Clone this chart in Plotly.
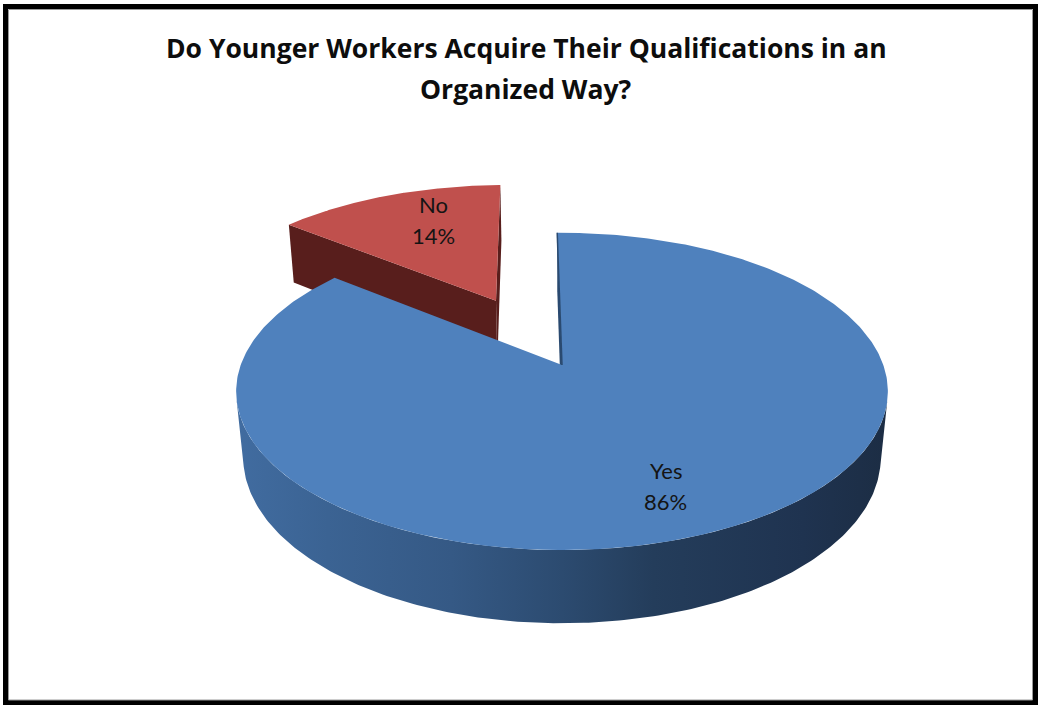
import numpy as np
import plotly.graph_objects as go

# Survey answers
categories = ["Yes", "No"]
values = [86, 14]
explode = [0.0, 0.5]          # radial offset of each slice, in pie radii

title_lines = ["Do Younger Workers Acquire Their Qualifications in an",
               "Organized Way?"]

# Slice styling
top_colors = ["#4f81bd", "#c0504d"]
side_scales = [
    [[0.0, "#416ca0"], [0.14, "#3b6393"], [0.33, "#355985"], [0.5, "#2c4b70"],
     [0.64, "#243d5b"], [0.87, "#1f3350"], [1.0, "#1c2d44"]],
    [[0.0, "#5c201e"], [1.0, "#4a1715"]],
]
cut_colors = ["#2a4a70", "#581e1c"]

# Perspective camera for the 3-D pie
W, H_PX = 1039, 705
CX, CY = 562.0, 365.0          # screen position of the pie centre
F = 1690.0                     # focal length (px)
DIST = 5.26                    # camera distance, in pie radii
PHI = np.arcsin(0.48)          # elevation of the camera
SPHI, CPHI = np.sin(PHI), np.cos(PHI)
DEPTH = 0.236                  # pie thickness, in pie radii
FIRST_ANGLE = 91.0             # where the first slice starts (deg, ccw from 3 o'clock)
CAM = np.array([0.0, -DIST * CPHI, DIST * SPHI])


def proj(X, Y, Z):
    X, Y, Z = np.asarray(X, float), np.asarray(Y, float), np.asarray(Z, float)
    d = DIST + Y * CPHI - Z * SPHI
    return CX + F * X / d, CY - F * (Y * SPHI + Z * CPHI) / d


def faces_camera(point, normal):
    return float(np.dot(CAM - point, normal)) > 1e-9


fig = go.Figure()

total = float(sum(values))
start = FIRST_ANGLE
slices = []
for i, v in enumerate(values):
    sweep = v / total * 360.0
    a_hi = start               # slices run clockwise
    a_lo = start - sweep
    mid = np.radians((a_hi + a_lo) / 2)
    ex, ey = explode[i] * np.cos(mid), explode[i] * np.sin(mid)
    slices.append(dict(i=i, lo=a_lo, hi=a_hi, mid=mid, ex=ex, ey=ey))
    start = a_lo

# paint far slices first
slices.sort(key=lambda s: -(s["ey"] + np.sin(s["mid"])))

for s in slices:
    i, ex, ey = s["i"], s["ex"], s["ey"]
    th = np.radians(np.linspace(s["lo"], s["hi"], 400))
    rx, ry = ex + np.cos(th), ey + np.sin(th)

    # flat cut faces
    for a, sign in ((s["lo"], -1), (s["hi"], 1)):
        ar = np.radians(a)
        n = np.array([np.cos(ar + sign * np.pi / 2), np.sin(ar + sign * np.pi / 2), 0.0])
        p = np.array([ex + 0.5 * np.cos(ar), ey + 0.5 * np.sin(ar), 0.0])
        if faces_camera(p, n):
            X = [ex, ex + np.cos(ar), ex + np.cos(ar), ex]
            Y = [ey, ey + np.sin(ar), ey + np.sin(ar), ey]
            Z = [0, 0, -DEPTH, -DEPTH]
            sx, sy = proj(X, Y, Z)
            fig.add_trace(go.Scatter(x=list(sx) + [sx[0]], y=list(sy) + [sy[0]],
                                     fill="toself", mode="lines", line=dict(width=0),
                                     fillcolor=cut_colors[i], hoverinfo="skip"))

    # curved outer wall, front-facing part only
    vis = np.array([faces_camera(np.array([x, y, 0.0]),
                                 np.array([np.cos(t), np.sin(t), 0.0]))
                    for x, y, t in zip(rx, ry, th)])
    if vis.any():
        idx = np.where(vis)[0]
        runs = np.split(idx, np.where(np.diff(idx) > 1)[0] + 1)
        for run in runs:
            tx, ty = proj(rx[run], ry[run], np.zeros(len(run)))
            bx, by = proj(rx[run], ry[run], np.full(len(run), -DEPTH))
            px = np.concatenate([tx, bx[::-1], tx[:1]])
            py = np.concatenate([ty, by[::-1], ty[:1]])
            fig.add_trace(go.Scatter(x=px, y=py, fill="toself", mode="lines",
                                     line=dict(width=0), hoverinfo="skip",
                                     fillgradient=dict(type="horizontal",
                                                       colorscale=side_scales[i])))

    # top face
    tx, ty = proj(np.concatenate([[ex], rx, [ex]]),
                  np.concatenate([[ey], ry, [ey]]), np.zeros(len(rx) + 2))
    fig.add_trace(go.Scatter(x=tx, y=ty, fill="toself", mode="lines",
                             line=dict(width=0), fillcolor=top_colors[i],
                             hoverinfo="skip"))

    if explode[i] == 0:
        # edge-on cut face at the slice start shows as a thin dark seam
        ar = np.radians(s["hi"])
        lx, ly = proj([ex, ex + np.cos(ar)], [ey, ey + np.sin(ar)], [0, 0])
        fig.add_trace(go.Scatter(x=lx, y=ly, mode="lines",
                                 line=dict(width=1.5, color=cut_colors[i]),
                                 hoverinfo="skip"))

# data labels
label_r = {"Yes": 0.66, "No": 0.55}
label_shift = {"Yes": -20, "No": 19}
for s in slices:
    cat = categories[s["i"]]
    r = label_r[cat]
    lx, ly = proj(s["ex"] + r * np.cos(s["mid"]), s["ey"] + r * np.sin(s["mid"]), 0.0)
    ly = float(ly) - label_shift[cat]
    pct = round(values[s["i"]] / total * 100)
    for text, dy in ((cat, -15.5), (f"{pct}%", 15.5)):
        fig.add_annotation(x=float(lx), y=ly + dy, text=text, showarrow=False,
                           xanchor="center", yanchor="middle",
                           font=dict(family="Lato", size=22, color="#141414"))

# title
for text, yc in zip(title_lines, (48, 89)):
    fig.add_annotation(x=526, y=yc, text=f"<b>{text}</b>", showarrow=False,
                       xanchor="center", yanchor="middle",
                       font=dict(family="Open Sans", size=26.5, color="#0d0d0d"))

# chart frame
fig.add_shape(type="rect", xref="x", yref="y", x0=5.5, y0=6.5, x1=1035.5, y1=702.5,
              line=dict(color="#000000", width=5), layer="above")
fig.add_shape(type="rect", xref="x", yref="y", x0=8.5, y0=9.5, x1=1032.5, y1=700,
              line=dict(color="#9a9a9a", width=1), layer="above")

fig.update_layout(
    width=W, height=H_PX, autosize=False,
    margin=dict(l=0, r=0, t=0, b=0),
    paper_bgcolor="white", plot_bgcolor="white",
    showlegend=False,
    xaxis=dict(range=[0, W], visible=False, fixedrange=True),
    yaxis=dict(range=[H_PX, 0], visible=False, fixedrange=True),
)

fig.write_html("out.html")
